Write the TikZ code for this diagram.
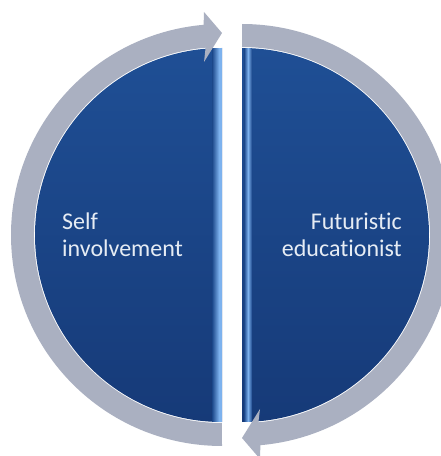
\documentclass[tikz,border=0pt]{standalone}
\usepackage{fontspec}
\setmainfont{Carlito}[Ligatures=NoCommon]
\definecolor{bluetop}{HTML}{1F4F95}
\definecolor{bluebot}{HTML}{163A78}
\definecolor{ringgray}{HTML}{AAB0C1}
\definecolor{bevel}{HTML}{7DB2EE}
\definecolor{lbltext}{HTML}{E6ECF4}
\tikzset{
  half/.style={top color=bluetop, bottom color=bluebot},
  ring/.style={fill=ringgray},
  lbl/.style={font=\fontsize{24}{27}\selectfont, text=lbltext, inner sep=0pt}
}
\begin{document}
\begin{tikzpicture}[x=1pt,y=1pt]
\useasboundingbox (0,0) rectangle (441,456);
\clip (0,0) rectangle (441,456);
% left half disc
\shade[half] (222,408) arc[start angle=90,end angle=270,radius=187] -- cycle;
\begin{scope}
  \clip (222,408) arc[start angle=90,end angle=270,radius=187] -- cycle;
  \shade[left color=bluetop!60!bluebot, right color=bevel] (212,30) rectangle (219,412);
  \fill[bevel] (219,30) rectangle (222,412);
\end{scope}
% right half disc
\shade[half] (242,408) arc[start angle=90,end angle=-90,radius=187] -- cycle;
\begin{scope}
  \clip (242,408) arc[start angle=90,end angle=-90,radius=187] -- cycle;
  \shade[left color=bluetop!60!bluebot, right color=bevel] (244,30) rectangle (248,412);
  \shade[left color=bevel, right color=bluetop!60!bluebot] (248,30) rectangle (252,412);
\end{scope}
% left circular arrow
\fill[ring] (222,10) arc[start angle=270,end angle=95,radius=211]
  -- (204,444) -- (222,423) -- (204,394) -- (205.6,408.3)
  arc[start angle=95,end angle=270,radius=188] -- cycle;
% right circular arrow
\fill[ring] (242,432) arc[start angle=90,end angle=-85,radius=211]
  -- (260,-3) -- (242,18) -- (260,47) -- (258.4,33.7)
  arc[start angle=-85,end angle=90,radius=188] -- cycle;
% labels
\node[lbl, align=left, anchor=base west] (self) at (62,199) {Self\\involvement};
\node[lbl, align=right, anchor=base east] (fut) at (402,199) {Futuristic\\educationist};
\end{tikzpicture}
\end{document}
